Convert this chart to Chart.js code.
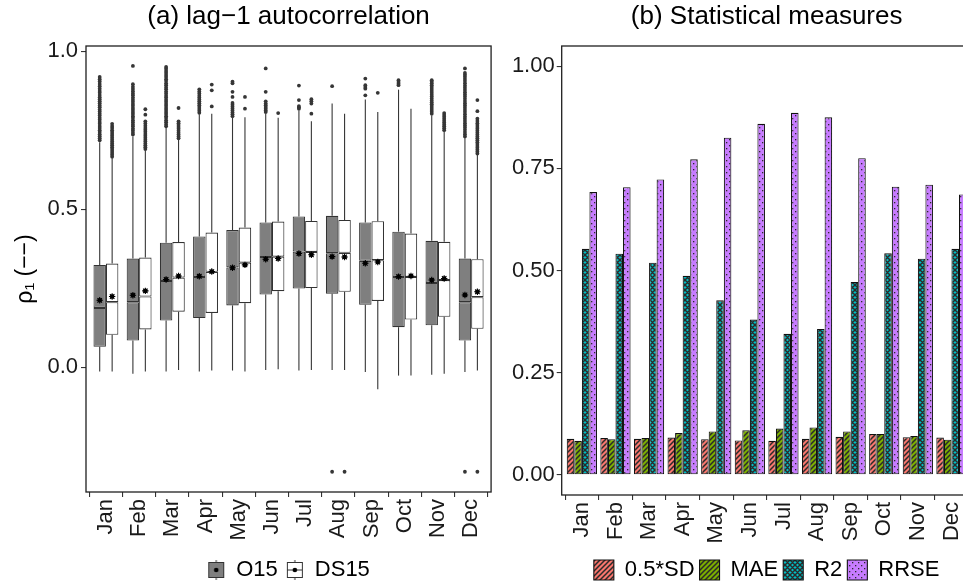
<!DOCTYPE html>
<html>
<head>
<meta charset="utf-8">
<script src="https://cdn.jsdelivr.net/npm/chart.js@4.4.1/dist/chart.umd.min.js"></script>
<style>
html, body { margin:0; padding:0; width:963px; height:581px; overflow:hidden; background:#fff; }
#wrapA { position:absolute; left:0; top:0; width:500px; height:595px; }
#wrapB { position:absolute; left:500px; top:0; width:500px; height:595px; }
canvas { display:block; }
</style>
</head>
<body>
<div id="wrapA"><canvas id="cA" width="500" height="595" style="width:500px;height:595px"></canvas></div>
<div id="wrapB"><canvas id="cB" width="500" height="595" style="width:500px;height:595px"></canvas></div>
<script>
// ---------- categories / ticks ----------
const months = ['Jan','Feb','Mar','Apr','May','Jun','Jul','Aug','Sep','Oct','Nov','Dec'];
const yTicksA = [0, 0.5, 1.0];
const yTicksB = [0, 0.25, 0.5, 0.75, 1.0];

// ---------- (a) box-plot statistics: O15 ----------
const o15Low  = [-0.013,-0.020,-0.013,-0.013,-0.010,-0.008,-0.010,-0.008,-0.015,-0.026,-0.023,-0.015];
const o15Q1   = [0.065,0.085,0.148,0.156,0.196,0.230,0.249,0.233,0.198,0.127,0.133,0.085];
const o15Med  = [0.188,0.206,0.273,0.286,0.316,0.349,0.366,0.361,0.337,0.286,0.267,0.206];
const o15Q3   = [0.324,0.344,0.394,0.414,0.434,0.458,0.477,0.479,0.458,0.429,0.400,0.344];
const o15High = [0.712,0.730,0.758,0.800,0.789,0.802,0.813,0.834,0.847,0.878,0.797,0.725];
const o15Mean = [0.212,0.228,0.278,0.288,0.315,0.342,0.360,0.350,0.329,0.287,0.276,0.229];
const o15Out = [
  [0.718,0.724,0.731,0.737,0.744,0.750,0.757,0.763,0.770,0.776,0.783,0.789,0.796,0.802,0.809,0.815,0.822,0.828,0.835,0.841,0.848,0.854,0.861,0.868,0.874,0.881,0.889,0.896,0.904,0.911,0.918],
  [0.736,0.742,0.749,0.755,0.762,0.768,0.775,0.781,0.788,0.794,0.801,0.807,0.814,0.820,0.827,0.833,0.840,0.846,0.853,0.860,0.866,0.873,0.880,0.887,0.895,0.953],
  [0.762,0.768,0.775,0.781,0.788,0.794,0.801,0.807,0.814,0.820,0.827,0.833,0.840,0.846,0.853,0.859,0.866,0.872,0.879,0.885,0.892,0.898,0.905,0.911,0.918,0.924,0.931,0.937,0.944,0.950],
  [0.805,0.811,0.817,0.823,0.829,0.835,0.841,0.847,0.853,0.859,0.866,0.872,0.879],
  [0.794,0.800,0.806,0.812,0.818,0.824,0.830,0.836,0.855,0.871,0.898,0.903],
  [0.807,0.812,0.818,0.823,0.829,0.834,0.841,0.871,0.945],
  [0.818,0.822,0.826,0.845,0.891],
  [0.889,-0.330],
  [0.860,0.881,0.886,0.892,0.913],
  [0.892,0.897,0.902,0.908],
  [0.802,0.808,0.814,0.820,0.826,0.832,0.838,0.844,0.850,0.856,0.862,0.868,0.874,0.880,0.886,0.892,0.898,0.903,0.908],
  [0.730,0.737,0.744,0.751,0.758,0.765,0.772,0.779,0.786,0.793,0.800,0.807,0.814,0.821,0.828,0.835,0.842,0.849,0.856,0.863,0.870,0.877,0.884,0.891,0.898,0.905,0.912,0.919,0.925,0.931,0.945,-0.330]
];

// ---------- (a) box-plot statistics: DS15 ----------
const ds15Low  = [-0.013,-0.013,-0.008,-0.010,-0.013,-0.006,-0.008,-0.008,-0.069,-0.026,-0.020,-0.010];
const ds15Q1   = [0.103,0.120,0.176,0.172,0.203,0.241,0.251,0.239,0.210,0.151,0.160,0.122];
const ds15Med  = [0.206,0.224,0.284,0.302,0.331,0.350,0.365,0.362,0.339,0.286,0.276,0.222];
const ds15Q3   = [0.328,0.347,0.396,0.426,0.442,0.461,0.463,0.466,0.462,0.423,0.397,0.342];
const ds15High = [0.662,0.686,0.721,0.802,0.791,0.789,0.778,0.802,0.807,0.818,0.745,0.672];
const ds15Mean = [0.224,0.242,0.289,0.303,0.324,0.344,0.356,0.349,0.333,0.289,0.281,0.239];
const ds15Out = [
  [0.666,0.672,0.678,0.684,0.690,0.696,0.702,0.708,0.714,0.720,0.726,0.732,0.738,0.744,0.750,0.757,0.763,0.770],
  [0.690,0.696,0.702,0.708,0.714,0.720,0.726,0.732,0.738,0.745,0.751,0.757,0.764,0.771,0.778,0.799,0.816],
  [0.724,0.730,0.736,0.742,0.748,0.754,0.760,0.766,0.772,0.778,0.820],
  [0.825,0.876,0.894],
  [0.818,0.855],
  [0.804],
  [0.802,0.834,0.841,0.848],
  [-0.330],
  [0.868],
  [],
  [0.750,0.756,0.762,0.768,0.774,0.780,0.786,0.792,0.798,0.804],
  [0.676,0.682,0.688,0.694,0.700,0.706,0.712,0.718,0.724,0.730,0.736,0.742,0.748,0.754,0.760,0.766,0.772,0.779,0.786,0.810,0.845,-0.330]
];

// ---------- (b) statistical measures ----------
const sdHalf = [0.088,0.090,0.088,0.091,0.087,0.084,0.083,0.088,0.093,0.100,0.092,0.091];
const maeVals = [0.083,0.087,0.090,0.102,0.106,0.109,0.113,0.116,0.106,0.100,0.095,0.086];
const r2Vals = [0.553,0.541,0.519,0.487,0.427,0.380,0.345,0.357,0.472,0.542,0.529,0.553];
const rrseVals = [0.692,0.704,0.723,0.772,0.825,0.859,0.886,0.875,0.775,0.705,0.710,0.686];

// ---------- shared style ----------
const FAM = "'Liberation Sans', Arial, Helvetica, sans-serif";
const TXT = '#1a1a1a';
const DARK = '#333333';
const DODGE = 0.75;            // total dodge width of the two boxes
const half = DODGE / 4;        // centre offset of each box

const framePlugin = {
  id: 'frame',
  afterDatasetsDraw(chart) {
    const { ctx, chartArea: a } = chart;
    ctx.save();
    ctx.strokeStyle = '#1f1f1f';
    ctx.lineWidth = 1.3;
    ctx.strokeRect(a.left, a.top, a.right - a.left, a.bottom - a.top);
    ctx.restore();
  }
};

function xAxis() {
  return {
    type: 'linear', min: 0.4, max: 12.6, offset: false,
    afterBuildTicks: s => { s.ticks = months.map((m, i) => ({ value: i + 1 })); },
    afterFit: s => { s.height = 59; },
    ticks: { autoSkip: false, minRotation: 90, maxRotation: 90, padding: 2,
             font: { family: FAM, size: 22 }, color: TXT,
             callback: v => months[Math.round(v) - 1] },
    grid: { display: true, drawOnChartArea: false, drawTicks: true, tickLength: 5, color: DARK, lineWidth: 1.1 },
    border: { display: false }
  };
}

// ---------- chart (a) ----------
const boxBar = (lo, hi, stack, bg) => ({
  type: 'bar', stack,
  data: months.map((m, i) => ({ x: i + 1, y: [lo[i], hi[i]] })),
  backgroundColor: bg, borderColor: DARK, borderWidth: 1.1, borderSkipped: false,
  categoryPercentage: DODGE, barPercentage: 1
});
const whiskerBar = (lo, hi, stack) => ({
  type: 'bar', stack,
  data: months.map((m, i) => ({ x: i + 1, y: [lo[i], hi[i]] })),
  backgroundColor: '#363636', borderWidth: 0, maxBarThickness: 1.1,
  categoryPercentage: DODGE, barPercentage: 1
});
const meanPts = (vals, off, style) => Object.assign({
  type: 'scatter',
  data: vals.map((v, i) => ({ x: i + 1 + off, y: v }))
}, style);
const outPts = (lists, off) => ({
  type: 'scatter',
  data: lists.flatMap((vals, i) => vals.map(v => ({ x: i + 1 + off, y: v }))),
  pointStyle: 'circle', pointRadius: 1.9, pointBackgroundColor: '#363636', pointBorderWidth: 0
});
const starStyle = { pointStyle: 'star', pointRadius: 3.2, pointBorderColor: '#000', pointBorderWidth: 1.1, pointBackgroundColor: '#000' };
const dotStyle = { pointStyle: 'circle', pointRadius: 2.3, pointBackgroundColor: '#000', pointBorderWidth: 0 };

function legendIcon(fill, withMedian) {
  const c = document.createElement('canvas');
  c.width = 18; c.height = 22;
  const g = c.getContext('2d');
  g.strokeStyle = DARK; g.lineWidth = 1;
  g.beginPath(); g.moveTo(9, 1); g.lineTo(9, 21); g.stroke();
  g.fillStyle = fill; g.fillRect(1.5, 3.5, 15, 15); g.strokeRect(1.5, 3.5, 15, 15);
  if (withMedian) { g.beginPath(); g.moveTo(1.5, 11); g.lineTo(16.5, 11); g.stroke(); }
  g.fillStyle = '#000'; g.beginPath(); g.arc(9, 11, 2.3, 0, Math.PI * 2); g.fill();
  return c;
}
const iconO = legendIcon('#7f7f7f', false);
const iconD = legendIcon('#ffffff', true);

new Chart(document.getElementById('cA'), {
  type: 'bar',
  data: {
    datasets: [
      meanPts(o15Mean, -half, starStyle),
      meanPts(o15Mean, -half, dotStyle),
      meanPts(ds15Mean, half, starStyle),
      meanPts(ds15Mean, half, dotStyle),
      outPts(o15Out, -half),
      outPts(ds15Out, half),
      boxBar(o15Q1, o15Med, 'O15', '#7f7f7f'),
      boxBar(o15Med, o15Q3, 'O15', '#7f7f7f'),
      boxBar(ds15Q1, ds15Med, 'DS15', '#ffffff'),
      boxBar(ds15Med, ds15Q3, 'DS15', '#ffffff'),
      whiskerBar(o15Low, o15Q1, 'O15'),
      whiskerBar(o15Q3, o15High, 'O15'),
      whiskerBar(ds15Low, ds15Q1, 'DS15'),
      whiskerBar(ds15Q3, ds15High, 'DS15')
    ]
  },
  options: {
    responsive: false, animation: false, events: [],
    layout: { padding: { left: 0, right: 4, top: 0, bottom: 4 } },
    plugins: {
      title: { display: true, text: '(a) lag\u22121 autocorrelation', fullSize: false,
               font: { family: FAM, size: 26, weight: 'normal' }, color: '#000',
               padding: { top: 1, bottom: 13.8 } },
      legend: { position: 'bottom', fullSize: false,
        labels: { usePointStyle: true, boxWidth: 18, boxHeight: 20, padding: 8,
                  font: { family: FAM, size: 22 }, color: '#000',
                  generateLabels: () => [
                    { text: 'O15', pointStyle: iconO, fillStyle: '#7f7f7f', strokeStyle: DARK, lineWidth: 1, hidden: false, fontColor: '#000' },
                    { text: 'DS15', pointStyle: iconD, fillStyle: '#fff', strokeStyle: DARK, lineWidth: 1, hidden: false, fontColor: '#000' }
                  ] } },
      tooltip: { enabled: false }
    },
    scales: {
      x: xAxis(),
      y: {
        min: -0.394, max: 1.016, stacked: false,
        afterBuildTicks: s => { s.ticks = yTicksA.map(v => ({ value: v })); },
        afterFit: s => { s.width = 86; },
        ticks: { padding: 3, font: { family: FAM, size: 22 }, color: TXT, callback: v => v.toFixed(1) },
        grid: { display: true, drawOnChartArea: false, drawTicks: true, tickLength: 5, color: DARK, lineWidth: 1.1 },
        border: { display: false },
        title: { display: true, text: '\u03c1\u2081 (\u2212\u2212)', color: '#000',
                 font: { family: FAM, size: 23 }, padding: { top: 12, bottom: 0 } }
      }
    }
  },
  plugins: [framePlugin]
});

// ---------- chart (b) ----------
const ctxB = document.getElementById('cB').getContext('2d');
function makePattern(kind, bg) {
  const s = kind === 'dots' ? 6 : 5;
  const c = document.createElement('canvas');
  c.width = s; c.height = s;
  const g = c.getContext('2d');
  g.fillStyle = bg; g.fillRect(0, 0, s, s);
  g.strokeStyle = '#2a2a2a'; g.fillStyle = '#2a2a2a';
  if (kind === 'stripe' || kind === 'cross') {
    g.lineWidth = 1.5;
    g.beginPath();
    g.moveTo(-1, s + 1); g.lineTo(s + 1, -1);
    g.moveTo(-1, 1); g.lineTo(1, -1);
    g.moveTo(s - 1, s + 1); g.lineTo(s + 1, s - 1);
    if (kind === 'cross') {
      g.moveTo(-1, -1); g.lineTo(s + 1, s + 1);
      g.moveTo(s - 1, -1); g.lineTo(s + 1, 1);
      g.moveTo(-1, s - 1); g.lineTo(1, s + 1);
    }
    g.stroke();
  } else if (kind === 'dots') {
    g.fillRect(1, 1, 1.3, 1.3);
    g.fillRect(4, 4, 1.3, 1.3);
  }
  return ctxB.createPattern(c, 'repeat');
}
const barSet = (label, vals, pattern) => ({
  label,
  data: vals.map((v, i) => ({ x: i + 1, y: v })),
  backgroundColor: pattern, borderColor: '#111', borderWidth: 1.1, borderSkipped: false,
  categoryPercentage: 0.9, barPercentage: 1
});

new Chart(ctxB, {
  type: 'bar',
  data: {
    datasets: [
      barSet('0.5*SD', sdHalf, makePattern('stripe', '#F8766D')),
      barSet('MAE', maeVals, makePattern('stripe', '#7CAE00')),
      barSet('R2', r2Vals, makePattern('cross', '#00BFC4')),
      barSet('RRSE', rrseVals, makePattern('dots', '#C77CFF'))
    ]
  },
  options: {
    responsive: false, animation: false, events: [],
    layout: { padding: { left: 0, right: 28.4, top: 0, bottom: 4 } },
    plugins: {
      title: { display: true, text: '(b) Statistical measures', fullSize: false,
               font: { family: FAM, size: 26, weight: 'normal' }, color: '#000',
               padding: { top: 1, bottom: 13.8 } },
      legend: { position: 'bottom', fullSize: false,
        labels: { boxWidth: 20, boxHeight: 20, padding: 5, color: '#000',
                  font: { family: FAM, size: 22 } } },
      tooltip: { enabled: false }
    },
    scales: {
      x: xAxis(),
      y: {
        min: -0.0495, max: 1.0495, stacked: false,
        afterBuildTicks: s => { s.ticks = yTicksB.map(v => ({ value: v })); },
        afterFit: s => { s.width = 61.7; },
        ticks: { padding: 2, font: { family: FAM, size: 22 }, color: TXT, callback: v => v.toFixed(2) },
        grid: { display: true, drawOnChartArea: false, drawTicks: true, tickLength: 5, color: DARK, lineWidth: 1.1 },
        border: { display: false }
      }
    }
  },
  plugins: [framePlugin]
});
</script>
</body>
</html>
